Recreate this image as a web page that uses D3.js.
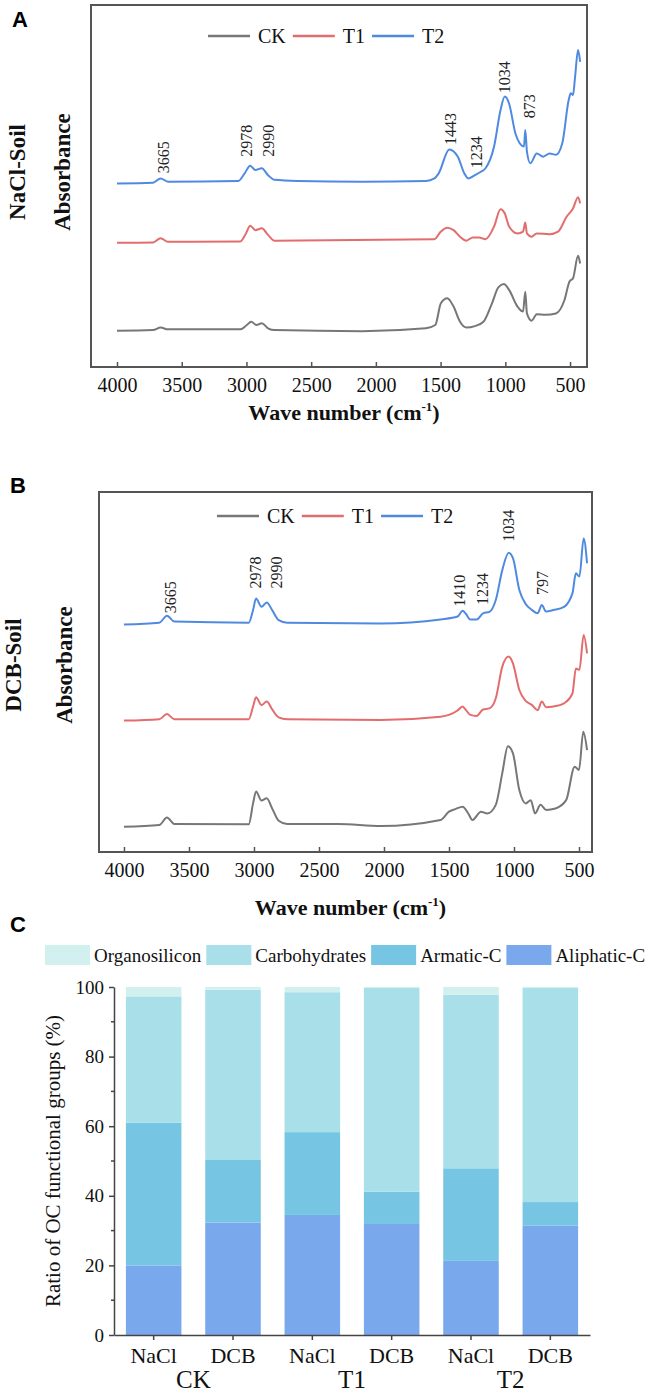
<!DOCTYPE html>
<html>
<head>
<meta charset="utf-8">
<script src="https://cdn.jsdelivr.net/npm/d3@7"></script>
<style>
body { margin: 0; background: #fff; }
svg { display: block; font-family: "Liberation Serif", "Times New Roman", serif; }
</style>
</head>
<body>
<div class="chart"></div>
<script>

// FTIR spectra, [wave number, absorbance (a.u.)]
// NaCl-extracted soil
var ckNaCl = [[4000,0.100],[3722,0.102],[3663,0.109],[3607,0.104],[3047,0.104],[2997,0.116],[2964,0.125],[2922,0.116],[2882,0.121],[2833,0.107],[2783,0.102],[2108,0.099],[1614,0.107],[1541,0.116],[1498,0.176],[1449,0.190],[1400,0.167],[1350,0.125],[1301,0.109],[1235,0.113],[1169,0.125],[1103,0.176],[1054,0.220],[1011,0.229],[971,0.213],[906,0.167],[863,0.153],[846,0.208],[833,0.148],[797,0.128],[757,0.146],[691,0.144],[609,0.148],[543,0.185],[504,0.236],[477,0.245],[438,0.307],[422,0.286]];
var t1NaCl = [[4000,0.343],[3722,0.344],[3663,0.356],[3607,0.346],[3047,0.347],[3004,0.369],[2971,0.390],[2931,0.378],[2882,0.383],[2833,0.365],[2783,0.349],[1548,0.353],[1498,0.374],[1449,0.385],[1400,0.378],[1350,0.360],[1301,0.349],[1251,0.358],[1202,0.358],[1153,0.353],[1087,0.388],[1037,0.436],[1004,0.424],[971,0.388],[906,0.369],[863,0.374],[846,0.399],[833,0.369],[797,0.360],[757,0.369],[658,0.367],[592,0.374],[527,0.415],[477,0.438],[438,0.469],[422,0.452]];
var t2NaCl = [[4000,0.507],[3722,0.509],[3663,0.521],[3607,0.512],[3063,0.514],[3014,0.535],[2971,0.556],[2931,0.544],[2882,0.549],[2833,0.530],[2783,0.517],[2602,0.514],[2108,0.512],[1614,0.514],[1548,0.521],[1515,0.535],[1433,0.601],[1367,0.581],[1317,0.535],[1284,0.521],[1235,0.530],[1186,0.540],[1153,0.549],[1087,0.609],[1037,0.710],[1004,0.747],[971,0.728],[922,0.645],[889,0.618],[856,0.609],[846,0.655],[833,0.595],[807,0.563],[757,0.590],[708,0.581],[658,0.590],[609,0.586],[560,0.618],[510,0.738],[494,0.756],[477,0.751],[461,0.802],[438,0.876],[422,0.843]];

// DCB-extracted soil
var ckDCB = [[4000,0.070],[3728,0.075],[3669,0.096],[3613,0.078],[3040,0.077],[3007,0.135],[2984,0.168],[2942,0.143],[2902,0.149],[2860,0.121],[2810,0.087],[2745,0.078],[2352,0.078],[2024,0.072],[1565,0.089],[1500,0.112],[1451,0.119],[1395,0.126],[1352,0.107],[1320,0.089],[1254,0.112],[1205,0.107],[1140,0.131],[1090,0.219],[1047,0.294],[1008,0.274],[959,0.172],[910,0.135],[871,0.144],[838,0.107],[796,0.131],[753,0.117],[681,0.121],[599,0.144],[533,0.237],[500,0.228],[467,0.334],[438,0.283]];
var t1DCB = [[4000,0.365],[3728,0.369],[3669,0.383],[3613,0.369],[3040,0.369],[3007,0.404],[2984,0.430],[2942,0.408],[2902,0.418],[2860,0.396],[2810,0.374],[2745,0.369],[2024,0.367],[1565,0.376],[1434,0.393],[1395,0.404],[1369,0.394],[1336,0.381],[1287,0.378],[1238,0.396],[1189,0.399],[1140,0.427],[1090,0.515],[1041,0.543],[1008,0.524],[959,0.450],[910,0.420],[861,0.408],[818,0.394],[786,0.418],[753,0.402],[697,0.404],[615,0.413],[550,0.441],[524,0.510],[497,0.506],[464,0.603],[438,0.552]];
var t2DCB = [[4000,0.632],[3728,0.637],[3669,0.656],[3613,0.640],[3040,0.637],[3007,0.672],[2984,0.704],[2942,0.681],[2902,0.693],[2860,0.672],[2810,0.644],[2745,0.637],[2024,0.635],[1565,0.646],[1434,0.654],[1395,0.670],[1369,0.661],[1336,0.646],[1287,0.646],[1238,0.663],[1189,0.667],[1140,0.700],[1090,0.783],[1041,0.831],[1008,0.816],[959,0.728],[910,0.689],[861,0.672],[818,0.663],[786,0.686],[753,0.668],[697,0.672],[615,0.681],[550,0.719],[524,0.774],[497,0.765],[464,0.871],[438,0.802]];

var seriesNames = ["CK", "T1", "T2"];
var lineColors = ["#777777", "#e36d6d", "#4f8ae0"];
var waveTicks = [4000, 3500, 3000, 2500, 2000, 1500, 1000, 500];

// peak labels: text, wave number and absorbance where the label starts
var peaksNaCl = [["3665",3640,0.535],["2978",2997,0.581],["2990",2832,0.581],["1443",1423,0.613],["1234",1225,0.549],["1034",1004,0.756],["873",813,0.687]];
var peaksDCB = [["3665",3646,0.663],["2978",2991,0.732],["2990",2827,0.732],["1410",1418,0.681],["1234",1244,0.686],["1034",1041,0.862],["797",779,0.714]];

// panel C, ratio of OC functional groups (%)
var treatments = ["CK", "T1", "T2"];
var extracts = ["NaCl", "DCB", "NaCl", "DCB", "NaCl", "DCB"];
var groupNames = ["Aliphatic-C", "Armatic-C", "Carbohydrates", "Organosilicon"];
var aliphatic = [20.0, 32.3, 34.5, 31.9, 21.3, 31.4];
var armatic = [41.0, 18.0, 23.8, 9.3, 26.6, 6.8];
var carbohydrates = [36.3, 48.9, 40.2, 58.5, 49.9, 61.5];
var organosilicon = [2.7, 0.8, 1.5, 0.3, 2.2, 0.3];
var groupColors = ["#7aa8ec", "#76c6e3", "#a8dfe8", "#d3f0f0"];
var pctTicks = [0, 20, 40, 60, 80, 100];


var svg = d3.select(".chart")
	.append("svg")
	.attr("width", 664)
	.attr("height", 1396);

svg.append("rect")
	.attr("width", 664)
	.attr("height", 1396)
	.attr("fill", "#fff");


function spectrumPanel(p) {

	var x = d3.scaleLinear()
		.domain(p.wave)
		.range([p.left, p.right]);

	var y = d3.scaleLinear()
		.domain([0, 1])
		.range([p.bottom, p.top]);

	var g = svg.append("g");

	var line = d3.line()
		.x(function(d) { return x(d[0]); })
		.y(function(d) { return y(d[1]); })
		.curve(d3.curveMonotoneX);

	p.series.forEach(function(s, i) {
		g.append("path")
			.attr("d", line(s))
			.attr("fill", "none")
			.attr("stroke", lineColors[i])
			.attr("stroke-width", 2)
			.attr("stroke-linejoin", "round");
	});

	// frame
	g.append("rect")
		.attr("x", p.left)
		.attr("y", p.top)
		.attr("width", p.right - p.left)
		.attr("height", p.bottom - p.top)
		.attr("fill", "none")
		.attr("stroke", "#555")
		.attr("stroke-width", 2);

	var xAxis = d3.axisBottom(x)
		.tickValues(waveTicks)
		.tickFormat(d3.format("d"))
		.tickSizeInner(-5)
		.tickSizeOuter(0)
		.tickPadding(11);

	var ax = g.append("g")
		.attr("transform", "translate(0," + p.bottom + ")")
		.call(xAxis);
	ax.select(".domain").remove();
	ax.selectAll(".tick line").attr("stroke", "#555").attr("stroke-width", 1.5);
	ax.selectAll(".tick text")
		.attr("font-family", "Liberation Serif")
		.attr("font-size", 20)
		.attr("fill", "#111");

	// x title
	var t = g.append("text")
		.attr("x", (p.left + p.right) / 2 + 5)
		.attr("y", p.titleY)
		.attr("text-anchor", "middle")
		.attr("font-size", 22)
		.attr("font-weight", "bold")
		.attr("fill", "#111")
		.text("Wave number (cm");
	t.append("tspan")
		.attr("font-size", 13)
		.attr("dy", -9)
		.text("-1");
	t.append("tspan")
		.attr("dy", 9)
		.text(")");

	// y labels
	g.append("text")
		.attr("transform", "translate(" + p.soilX + "," + p.labelY + ") rotate(-90)")
		.attr("text-anchor", "middle")
		.attr("dy", "0.35em")
		.attr("font-size", 23)
		.attr("font-weight", "bold")
		.attr("fill", "#111")
		.text(p.soil);

	g.append("text")
		.attr("transform", "translate(" + p.absX + "," + p.labelY + ") rotate(-90)")
		.attr("text-anchor", "middle")
		.attr("dy", "0.35em")
		.attr("font-size", 23)
		.attr("font-weight", "bold")
		.attr("fill", "#111")
		.text("Absorbance");

	// peak labels
	g.selectAll(".peak")
		.data(p.peaks)
		.enter().append("text")
		.attr("class", "peak")
		.attr("transform", function(d) { return "translate(" + x(d[1]) + "," + y(d[2]) + ") rotate(-90)"; })
		.attr("dy", "0.35em")
		.attr("font-size", 16)
		.attr("fill", "#222")
		.text(function(d) { return d[0]; });

	// legend
	var lx = p.legendX;
	seriesNames.forEach(function(name, i) {
		g.append("line")
			.attr("x1", lx).attr("x2", lx + 42)
			.attr("y1", p.legendY).attr("y2", p.legendY)
			.attr("stroke", lineColors[i])
			.attr("stroke-width", 2.5);
		var tx = g.append("text")
			.attr("x", lx + 50)
			.attr("y", p.legendY + 7)
			.attr("font-size", 20)
			.attr("fill", "#111")
			.text(name);
		lx = lx + 50 + tx.node().getComputedTextLength() + 7;
	});

	// panel letter
	g.append("text")
		.attr("x", p.letterX)
		.attr("y", p.letterY)
		.attr("font-family", "Liberation Sans")
		.attr("font-weight", "bold")
		.attr("font-size", 22)
		.attr("fill", "#000")
		.text(p.letter);
}

spectrumPanel({
	letter: "A", letterX: 12, letterY: 27,
	left: 91, right: 587, top: 5, bottom: 367,
	wave: [4201, 369],
	series: [ckNaCl, t1NaCl, t2NaCl],
	peaks: peaksNaCl,
	titleY: 420,
	soil: "NaCl-Soil", soilX: 17, absX: 62, labelY: 172,
	legendX: 208, legendY: 36
});

spectrumPanel({
	letter: "B", letterX: 10, letterY: 493,
	left: 99, right: 592, top: 492, bottom: 852,
	wave: [4192, 400],
	series: [ckDCB, t1DCB, t2DCB],
	peaks: peaksDCB,
	titleY: 915,
	soil: "DCB-Soil", soilX: 13, absX: 64, labelY: 665,
	legendX: 217, legendY: 516
});


// ---- Panel C : stacked bars ----

var rows = extracts.map(function(e, i) {
	return {
		i: i,
		"Aliphatic-C": aliphatic[i],
		"Armatic-C": armatic[i],
		"Carbohydrates": carbohydrates[i],
		"Organosilicon": organosilicon[i]
	};
});

var stack = d3.stack().keys(groupNames);
var layers = stack(rows);

var xC = d3.scaleBand()
	.domain(d3.range(extracts.length))
	.range([114, 590])
	.paddingInner(0.3)
	.paddingOuter(0.15);

var yC = d3.scaleLinear()
	.domain([0, 100])
	.range([1335, 987]);

var gC = svg.append("g");

gC.selectAll(".layer")
	.data(layers)
	.enter().append("g")
	.attr("class", "layer")
	.attr("fill", function(d, i) { return groupColors[i]; })
	.selectAll("rect")
	.data(function(d) { return d; })
	.enter().append("rect")
	.attr("x", function(d) { return xC(d.data.i); })
	.attr("width", xC.bandwidth())
	.attr("y", function(d) { return yC(d[1]); })
	.attr("height", function(d) { return yC(d[0]) - yC(d[1]); });

// y axis
var yAxisC = d3.axisLeft(yC)
	.tickValues(pctTicks)
	.tickSizeInner(5)
	.tickSizeOuter(0)
	.tickPadding(5);

var ayC = gC.append("g")
	.attr("transform", "translate(114,0)")
	.call(yAxisC);
ayC.select(".domain").attr("stroke", "#444").attr("stroke-width", 1.5);
ayC.selectAll(".tick line").attr("stroke", "#444").attr("stroke-width", 1.5);
ayC.selectAll(".tick text")
	.attr("font-family", "Liberation Serif")
	.attr("font-size", 19)
	.attr("fill", "#111");

// minor ticks
gC.selectAll(".minor")
	.data([10, 30, 50, 70, 90])
	.enter().append("line")
	.attr("x1", 111).attr("x2", 114)
	.attr("y1", function(d) { return yC(d); })
	.attr("y2", function(d) { return yC(d); })
	.attr("stroke", "#444")
	.attr("stroke-width", 1.5);

// x axis
var xAxisC = d3.axisBottom(xC)
	.tickFormat(function(i) { return extracts[i]; })
	.tickSizeInner(5)
	.tickSizeOuter(0)
	.tickPadding(7);

var axC = gC.append("g")
	.attr("transform", "translate(0,1335)")
	.call(xAxisC);
axC.select(".domain").attr("stroke", "#444").attr("stroke-width", 1.5);
axC.selectAll(".tick line").attr("stroke", "#444").attr("stroke-width", 1.5);
axC.selectAll(".tick text")
	.attr("font-family", "Liberation Serif")
	.attr("font-size", 22)
	.attr("fill", "#111");

// treatment labels under each pair
gC.selectAll(".treat")
	.data(treatments)
	.enter().append("text")
	.attr("class", "treat")
	.attr("x", function(d, i) { return (xC(i * 2) + xC(i * 2 + 1) + xC.bandwidth()) / 2; })
	.attr("y", 1388)
	.attr("text-anchor", "middle")
	.attr("font-size", 25)
	.attr("fill", "#111")
	.text(function(d) { return d; });

// y title
gC.append("text")
	.attr("transform", "translate(53,1161) rotate(-90)")
	.attr("text-anchor", "middle")
	.attr("dy", "0.35em")
	.attr("font-size", 21)
	.attr("fill", "#111")
	.text("Ratio of OC functional groups (%)");

// legend, top order first
var legendOrder = groupNames.slice().reverse();
var lx = 45;
legendOrder.forEach(function(name) {
	var ci = groupNames.indexOf(name);
	gC.append("rect")
		.attr("x", lx)
		.attr("y", 945)
		.attr("width", 45)
		.attr("height", 20)
		.attr("fill", groupColors[ci]);
	var tx = gC.append("text")
		.attr("x", lx + 49)
		.attr("y", 962)
		.attr("font-size", 19)
		.attr("fill", "#111")
		.text(name);
	lx = lx + 49 + tx.node().getComputedTextLength() + 5;
});

gC.append("text")
	.attr("x", 10)
	.attr("y", 932)
	.attr("font-family", "Liberation Sans")
	.attr("font-weight", "bold")
	.attr("font-size", 22)
	.attr("fill", "#000")
	.text("C");

</script>
</body>
</html>
